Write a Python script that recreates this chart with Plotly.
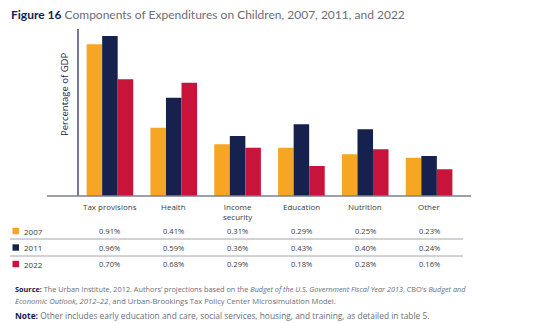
import plotly.graph_objects as go

# Chart data
categories = ["Tax provisions", "Health", "Income security", "Education", "Nutrition", "Other"]
category_labels = ["Tax provisions", "Health", "Income<br>security", "Education", "Nutrition", "Other"]
years = ["2007", "2011", "2022"]
values_2007 = [0.91, 0.41, 0.31, 0.29, 0.25, 0.23]
values_2011 = [0.96, 0.59, 0.36, 0.43, 0.40, 0.24]
values_2022 = [0.70, 0.68, 0.29, 0.18, 0.28, 0.16]

series = [values_2007, values_2011, values_2022]
colors = ["#F6A623", "#16214D", "#C8133A"]

W, H = 550, 323
NAVY = "#16214D"
GREY = "#6b6e76"
FONT = "Open Sans"


def px_x(v):
    return v / W


def px_y(v):
    return 1 - v / H


fig = go.Figure()
for year, vals, col in zip(years, series, colors):
    fig.add_trace(go.Bar(x=categories, y=vals, name=year, marker=dict(color=col, line=dict(width=0)),
                         hoverinfo="x+y+name"))

fig.update_layout(
    width=W, height=H,
    margin=dict(l=0, r=0, t=0, b=0),
    paper_bgcolor="white", plot_bgcolor="white",
    barmode="group", bargap=0.27, bargroupgap=0,
    showlegend=False,
    font=dict(family=FONT, color=GREY),
    xaxis=dict(domain=[px_x(78), px_x(461)], range=[-0.5, 5.5], showticklabels=False,
               showgrid=False, zeroline=False, showline=False, fixedrange=True),
    yaxis=dict(domain=[px_y(196), px_y(29.3)], range=[0, 1.0], showticklabels=False,
               showgrid=False, zeroline=False, showline=False, fixedrange=True),
)

shapes = []
# vertical axis line
shapes.append(dict(type="line", xref="paper", yref="paper", x0=px_x(78), x1=px_x(78),
                   y0=px_y(196), y1=px_y(29), line=dict(color=NAVY, width=1.2)))
# baseline
shapes.append(dict(type="line", xref="paper", yref="paper", x0=px_x(47), x1=px_x(471),
                   y0=px_y(196), y1=px_y(196), line=dict(color="#7d818b", width=1.6)))
# table separators
for yy in (239, 256):
    shapes.append(dict(type="line", xref="paper", yref="paper", x0=px_x(10), x1=px_x(463),
                       y0=px_y(yy), y1=px_y(yy), line=dict(color="#a3a6ae", width=1)))

row_y = [231, 247.5, 264]
for yy, col in zip(row_y, colors):
    shapes.append(dict(type="rect", xref="paper", yref="paper", x0=px_x(12.5), x1=px_x(19),
                       y0=px_y(yy + 3.2), y1=px_y(yy - 3.2), fillcolor=col, line=dict(width=0)))

annotations = []
# title
annotations.append(dict(
    text=("<b><span style='color:%s'>Figure 16</span></b> "
          "Components of Expenditures on Children, 2007, 2011, and 2022" % NAVY),
    xref="paper", yref="paper", x=px_x(9), y=px_y(14), xanchor="left", yanchor="middle",
    showarrow=False, font=dict(size=12, color=GREY, family="Lato")))
# y-axis title
annotations.append(dict(text="Percentage of GDP", xref="paper", yref="paper", x=px_x(64), y=px_y(95),
                        textangle=-90, showarrow=False, xanchor="center", yanchor="middle",
                        font=dict(size=9.5, color=NAVY, family=FONT)))
# category labels
for cat, lab in zip(categories, category_labels):
    annotations.append(dict(text=lab, xref="x", yref="paper", x=cat, y=px_y(199), yanchor="top",
                            xanchor="center", showarrow=False,
                            font=dict(size=8, color="#3a3d45", family=FONT)))
# table rows
for yy, year, vals in zip(row_y, years, series):
    annotations.append(dict(text=year, xref="paper", yref="paper", x=px_x(21.5), y=px_y(yy),
                            xanchor="left", yanchor="middle", showarrow=False,
                            font=dict(size=8, color="#3a3d45", family=FONT)))
    for cat, v in zip(categories, vals):
        annotations.append(dict(text=f"{v:.2f}%", xref="x", yref="paper", x=cat, y=px_y(yy),
                                xanchor="center", yanchor="middle", showarrow=False,
                                font=dict(size=7.6, color="#3a3d45", family=FONT)))
# source and note
src1 = ("<b><span style='color:%s'>Source:</span></b> The Urban Institute, 2012. Authors’ projections based on the "
        "<i>Budget of the U.S. Government Fiscal Year 2013</i>, CBO’s <i>Budget and</i>" % NAVY)
src2 = "<i>Economic Outlook, 2012–22</i>, and Urban-Brookings Tax Policy Center Microsimulation Model."
note = ("<b><span style='color:%s'>Note:</span></b> Other includes early education and care, social services, "
        "housing, and training, as detailed in table 5." % NAVY)
for txt, yy, sz in ((src1, 289, 7.3), (src2, 301, 7.6), (note, 315.5, 8.4)):
    annotations.append(dict(text=txt, xref="paper", yref="paper", x=px_x(13), y=px_y(yy),
                            xanchor="left", yanchor="middle", showarrow=False,
                            font=dict(size=sz, color=GREY, family=FONT)))

fig.update_layout(shapes=shapes, annotations=annotations)
fig.write_html("out.html")
